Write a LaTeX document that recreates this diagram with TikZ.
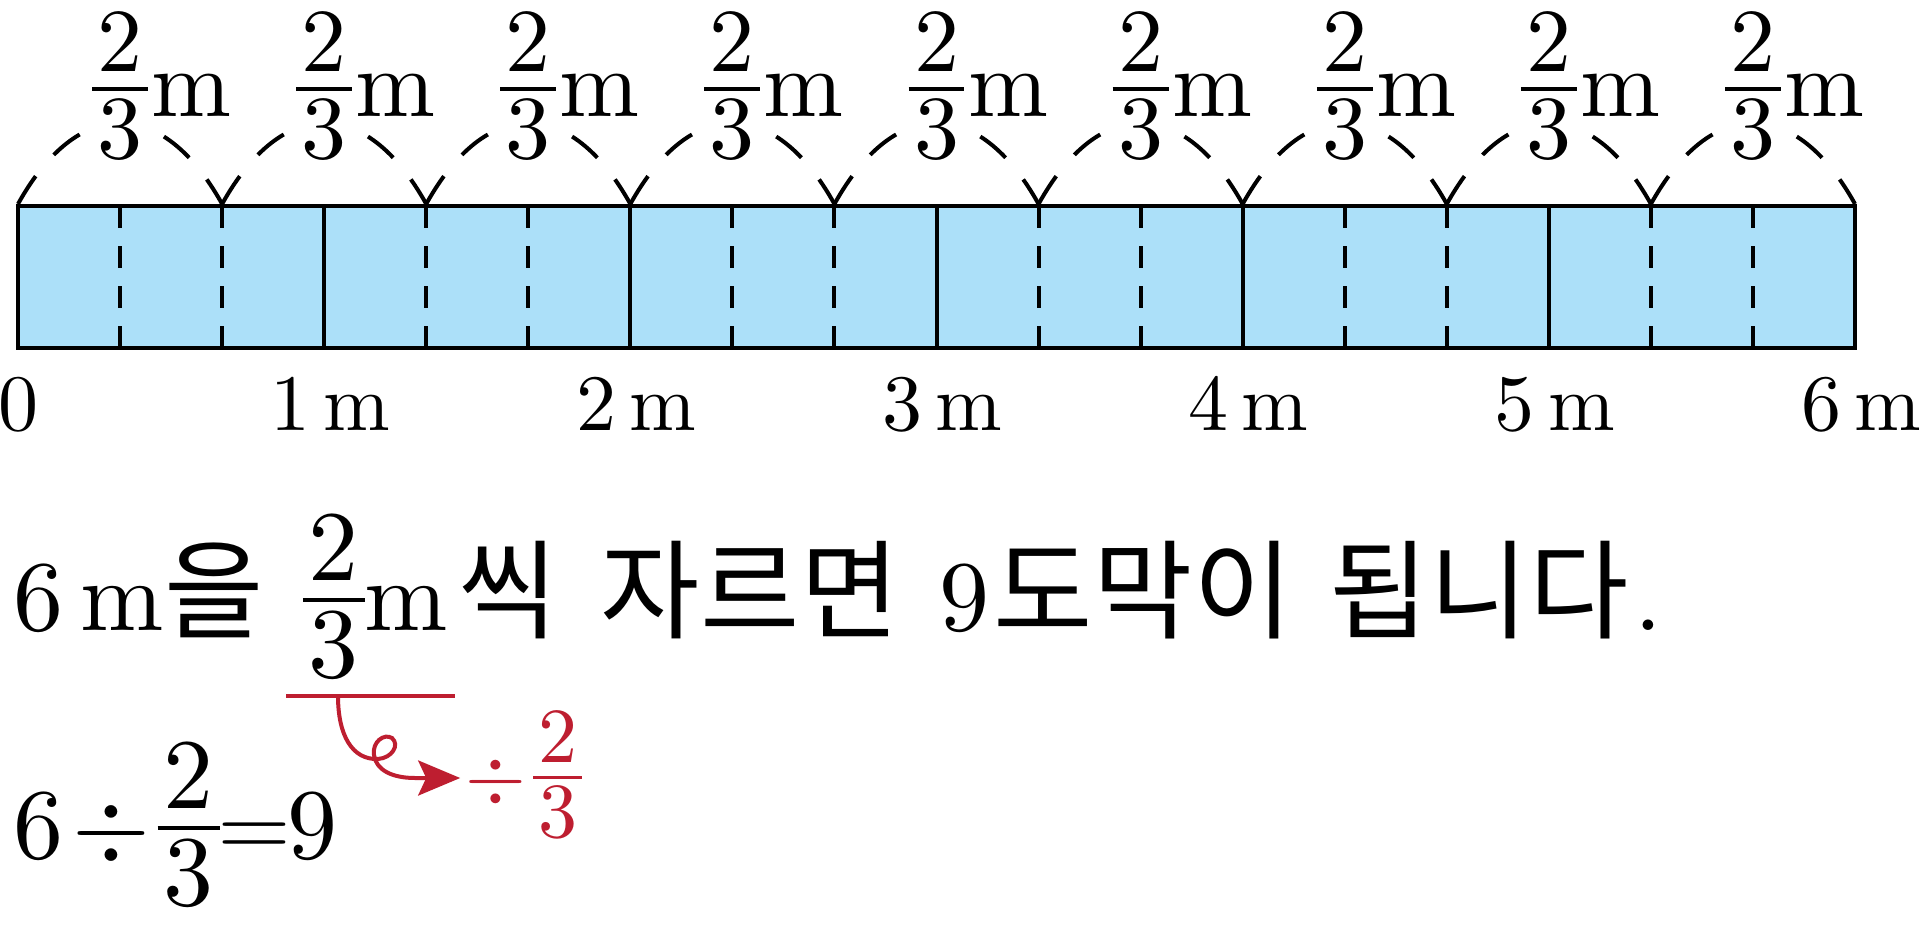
\RequirePackage{fix-cm}
\documentclass[tikz,border=0pt]{standalone}
\usepackage{fontspec}
\setmainfont{lmroman10-regular}[Extension=.otf]
\newfontfamily\ko{Noto Sans CJK KR}[Scale=1.08]
\usetikzlibrary{arrows.meta}
\definecolor{barblue}{RGB}{172,224,249}
\definecolor{redc}{RGB}{190,30,48}
\newcommand{\setfs}[1]{\fontsize{#1}{#1}\selectfont}
\newcommand{\myfrac}[2]{\mbox{\rlap{\raisebox{.5em}{\makebox[.62em]{#1}}}\rlap{\raisebox{-.47em}{\makebox[.62em]{#2}}}\raisebox{.28em}{\rule{.62em}{.045em}}}}
\newcommand{\kc}[1]{\makebox[1em]{\ko #1}}
\newcommand{\dv}{$\mathord{\div}$}
\newcommand{\eqs}{$\mathord{=}$}
\begin{document}
\begin{tikzpicture}[x=0.25pt,y=-0.25pt,
  box/.style={draw=black,fill=barblue,line width=1.1pt},
  solidline/.style={line width=1pt},
  thirdline/.style={line width=1pt,dash pattern=on 5.5pt off 4.5pt},
  arcline/.style={line width=1pt,dash pattern=on 8.25pt off 7pt},
  toplab/.style={inner sep=0.5pt,anchor=base,fill=white,font=\setfs{22.5}},
  unitlab/.style={inner sep=0pt,anchor=base west,font=\setfs{24}},
  axislab/.style={inner sep=0pt,anchor=base,font=\setfs{20}},
  txt/.style={inner sep=0pt,anchor=base west,font=\setfs{25}},
  redtxt/.style={inner sep=0pt,anchor=base west,text=redc,font=\setfs{19.5}},
  redline/.style={draw=redc,line width=1pt}]
\useasboundingbox (0,0) rectangle (1929,931);
\fill[white] (0,0) rectangle (1929,931);
% bar
\draw[box] (18,206) rectangle (1855,348);
\foreach \k in {1,...,5}
  \draw[solidline] ({18+306.1667*\k},206) -- ({18+306.1667*\k},348);
\foreach \k in {1,2,4,5,7,8,10,11,13,14,16,17}
  \draw[thirdline] ({18+102.0556*\k},206) -- ({18+102.0556*\k},348);
% arcs and labels
\foreach \i in {0,...,8}{
  \pgfmathsetmacro\xa{18+204.1111*\i}
  \pgfmathsetmacro\xb{\xa+204.1111}
  \draw[arcline] (\xa,204) .. controls ({\xa+60},96) and ({\xb-60},96) .. (\xb,204);
  \node[toplab] (f\i) at ({\xa+102.0556},116) {\myfrac{2}{3}};
  \node[unitlab] (u\i) at (f\i.base east) {m};
}
% axis labels
\node[axislab] (a0) at (18,430) {0};
\foreach \k in {1,...,6}
  \node[axislab] (a\k) at ({18+306.1667*\k+6},430) {\k\,m};
% sentence
\node[txt] (s1) at (13,630) {6\,m\kc{을}};
\node[txt] (s2) at (302,630) {\myfrac{2}{3}m\kern.1em\kc{씩}};
\node[txt] (s3) at (599,630) {\kc{자}\kc{르}\kc{면}\kern.4em 9\kern.035em\kc{도}\kc{막}\kc{이}\kern.36em\kc{됩}\kc{니}\kc{다}\kern.05em.};
% equation
\node[txt] (eq) at (13,858) {6\kern.09em\dv\kern.07em\myfrac{2}{3}\kern-.014em\eqs\kern-.024em 9};
% red part
\node[redtxt] (rd) at (465,801) {\dv\kern.09em\myfrac{2}{3}};
\coordinate (bl) at (286,696);
\coordinate (br) at (455,696);
\coordinate (bs) at (338,696);
\coordinate (ay) at (0,778);
\draw[redline] (bl) -- (br);
\draw[redline,-{Stealth[length=10.5pt,width=8.75pt,inset=2pt]},shorten >=1.2pt]
  (bs) .. controls (338,735) and (352,760) .. (378,759)
  .. controls (392,758) and (400,745) .. (392,738)
  .. controls (384,733) and (372,742) .. (374,755)
  .. controls (376,770) and (392,778) .. (415,778)
  -- (rd.west |- ay);
\end{tikzpicture}
\end{document}
